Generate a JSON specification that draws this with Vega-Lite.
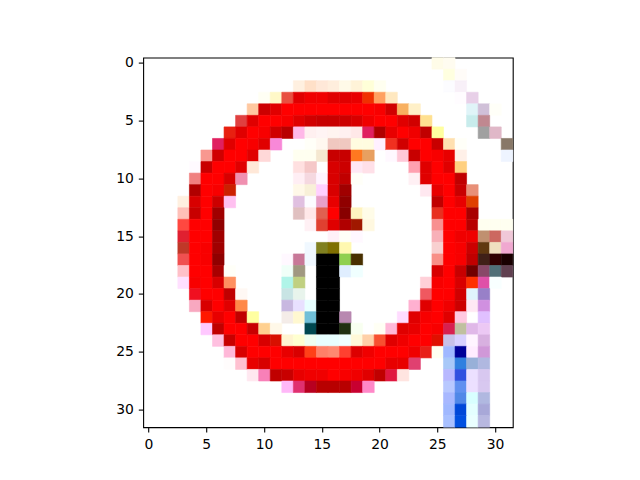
{
  "$schema": "https://vega.github.io/schema/vega-lite/v6.json",
  "width": 369.6,
  "height": 369.6,
  "autosize": {"type": "none"},
  "padding": {"left": 143.2, "top": 57.6, "right": 127.2, "bottom": 52.8},
  "background": "white",
  "config": {
    "view": {"stroke": "black", "strokeWidth": 1.1},
    "axis": {
      "domain": false,
      "grid": false,
      "title": null,
      "tickColor": "black",
      "tickSize": 4.9,
      "tickWidth": 1.1,
      "labelFont": "DejaVu Sans",
      "labelFontSize": 13.9,
      "labelColor": "black",
      "labelPadding": 4.9,
      "zindex": 1
    }
  },
  "data": {
    "values": [
      {"x": 25, "y": 0, "c": "#fffce8"}, {"x": 26, "y": 0, "c": "#fffcf0"},
      {"x": 26, "y": 1, "c": "#ffffe0"}, {"x": 27, "y": 1, "c": "#fffcf8"},
      {"x": 13, "y": 2, "c": "#fff0e0"}, {"x": 14, "y": 2, "c": "#ffe0c8"}, {"x": 15, "y": 2, "c": "#ffe8d8"}, {"x": 16, "y": 2, "c": "#ffeedd"}, {"x": 17, "y": 2, "c": "#fffae8"}, {"x": 18, "y": 2, "c": "#fff3d8"}, {"x": 19, "y": 2, "c": "#ffffd8"}, {"x": 20, "y": 2, "c": "#fffff0"}, {"x": 26, "y": 2, "c": "#fcfcff"}, {"x": 27, "y": 2, "c": "#f8f0f8"},
      {"x": 10, "y": 3, "c": "#fffff4"}, {"x": 11, "y": 3, "c": "#fff8c8"}, {"x": 12, "y": 3, "c": "#e85040"}, {"x": 13, "y": 3, "c": "#e00000"}, {"x": 14, "y": 3, "c": "#f00000"}, {"x": 15, "y": 3, "c": "#f00000"}, {"x": 16, "y": 3, "c": "#e00000"}, {"x": 17, "y": 3, "c": "#e00000"}, {"x": 18, "y": 3, "c": "#e80000"}, {"x": 19, "y": 3, "c": "#f03000"}, {"x": 20, "y": 3, "c": "#ffa060"}, {"x": 21, "y": 3, "c": "#ffe8c0"}, {"x": 27, "y": 3, "c": "#fffcff"}, {"x": 28, "y": 3, "c": "#e8d0e8"},
      {"x": 9, "y": 4, "c": "#ffc8a0"}, {"x": 10, "y": 4, "c": "#cc0000"}, {"x": 11, "y": 4, "c": "#e00000"}, {"x": 12, "y": 4, "c": "#ff0000"}, {"x": 13, "y": 4, "c": "#ff0000"}, {"x": 14, "y": 4, "c": "#ff0000"}, {"x": 15, "y": 4, "c": "#ff0000"}, {"x": 16, "y": 4, "c": "#ff0000"}, {"x": 17, "y": 4, "c": "#ff0000"}, {"x": 18, "y": 4, "c": "#ff0000"}, {"x": 19, "y": 4, "c": "#ff0000"}, {"x": 20, "y": 4, "c": "#f80000"}, {"x": 21, "y": 4, "c": "#d00000"}, {"x": 22, "y": 4, "c": "#f8b060"}, {"x": 23, "y": 4, "c": "#fff0c8"}, {"x": 28, "y": 4, "c": "#e0f4f8"}, {"x": 29, "y": 4, "c": "#d0c0d8"}, {"x": 30, "y": 4, "c": "#fffff8"},
      {"x": 8, "y": 5, "c": "#e04040"}, {"x": 9, "y": 5, "c": "#e00000"}, {"x": 10, "y": 5, "c": "#ff0000"}, {"x": 11, "y": 5, "c": "#ff0000"}, {"x": 12, "y": 5, "c": "#f80000"}, {"x": 13, "y": 5, "c": "#e00000"}, {"x": 14, "y": 5, "c": "#d00000"}, {"x": 15, "y": 5, "c": "#c80000"}, {"x": 16, "y": 5, "c": "#c80000"}, {"x": 17, "y": 5, "c": "#cc0000"}, {"x": 18, "y": 5, "c": "#d80000"}, {"x": 19, "y": 5, "c": "#f00000"}, {"x": 20, "y": 5, "c": "#ff0000"}, {"x": 21, "y": 5, "c": "#ff0000"}, {"x": 22, "y": 5, "c": "#e00000"}, {"x": 23, "y": 5, "c": "#d00000"}, {"x": 24, "y": 5, "c": "#ffe090"}, {"x": 28, "y": 5, "c": "#c8ecec"}, {"x": 29, "y": 5, "c": "#c08890"},
      {"x": 7, "y": 6, "c": "#e82010"}, {"x": 8, "y": 6, "c": "#e00000"}, {"x": 9, "y": 6, "c": "#ff0000"}, {"x": 10, "y": 6, "c": "#f80000"}, {"x": 11, "y": 6, "c": "#d00000"}, {"x": 12, "y": 6, "c": "#b80000"}, {"x": 13, "y": 6, "c": "#ffb8e8"}, {"x": 14, "y": 6, "c": "#fff0f0"}, {"x": 15, "y": 6, "c": "#fff4f4"}, {"x": 16, "y": 6, "c": "#fff4f0"}, {"x": 17, "y": 6, "c": "#fff0f0"}, {"x": 18, "y": 6, "c": "#ffe8e8"}, {"x": 19, "y": 6, "c": "#e02060"}, {"x": 20, "y": 6, "c": "#b00000"}, {"x": 21, "y": 6, "c": "#e80000"}, {"x": 22, "y": 6, "c": "#ff0000"}, {"x": 23, "y": 6, "c": "#f00000"}, {"x": 24, "y": 6, "c": "#c00000"}, {"x": 25, "y": 6, "c": "#ffffa0"}, {"x": 29, "y": 6, "c": "#a0a0a0"}, {"x": 30, "y": 6, "c": "#e0b8c8"},
      {"x": 6, "y": 7, "c": "#e02060"}, {"x": 7, "y": 7, "c": "#e00000"}, {"x": 8, "y": 7, "c": "#ff0000"}, {"x": 9, "y": 7, "c": "#f80000"}, {"x": 10, "y": 7, "c": "#e00000"}, {"x": 11, "y": 7, "c": "#f888d8"}, {"x": 14, "y": 7, "c": "#fffff8"}, {"x": 15, "y": 7, "c": "#fff8f0"}, {"x": 16, "y": 7, "c": "#f0c8c0"}, {"x": 17, "y": 7, "c": "#f0c8c0"}, {"x": 18, "y": 7, "c": "#fffce0"}, {"x": 19, "y": 7, "c": "#fffce0"}, {"x": 20, "y": 7, "c": "#fff0ff"}, {"x": 21, "y": 7, "c": "#f03020"}, {"x": 22, "y": 7, "c": "#d00000"}, {"x": 23, "y": 7, "c": "#ff0000"}, {"x": 24, "y": 7, "c": "#ff0000"}, {"x": 25, "y": 7, "c": "#c80000"}, {"x": 26, "y": 7, "c": "#ffe0b0"}, {"x": 27, "y": 7, "c": "#fffff8"}, {"x": 31, "y": 7, "c": "#887868"},
      {"x": 5, "y": 8, "c": "#f89890"}, {"x": 6, "y": 8, "c": "#d00000"}, {"x": 7, "y": 8, "c": "#ff0000"}, {"x": 8, "y": 8, "c": "#ff0000"}, {"x": 9, "y": 8, "c": "#e00000"}, {"x": 10, "y": 8, "c": "#ffd8d8"}, {"x": 13, "y": 8, "c": "#fffff0"}, {"x": 14, "y": 8, "c": "#fffff0"}, {"x": 15, "y": 8, "c": "#f5e8d0"}, {"x": 16, "y": 8, "c": "#c80000"}, {"x": 17, "y": 8, "c": "#c80000"}, {"x": 18, "y": 8, "c": "#ff7820"}, {"x": 19, "y": 8, "c": "#e8a060"}, {"x": 21, "y": 8, "c": "#fff8ff"}, {"x": 22, "y": 8, "c": "#ffc8d8"}, {"x": 23, "y": 8, "c": "#c80000"}, {"x": 24, "y": 8, "c": "#ff0000"}, {"x": 25, "y": 8, "c": "#f80000"}, {"x": 26, "y": 8, "c": "#e80000"}, {"x": 27, "y": 8, "c": "#fff0e8"}, {"x": 31, "y": 8, "c": "#eef4ff"},
      {"x": 4, "y": 9, "c": "#fffaff"}, {"x": 5, "y": 9, "c": "#c80000"}, {"x": 6, "y": 9, "c": "#ff0000"}, {"x": 7, "y": 9, "c": "#ff0000"}, {"x": 8, "y": 9, "c": "#e00000"}, {"x": 9, "y": 9, "c": "#ffe8d8"}, {"x": 13, "y": 9, "c": "#ffe0e0"}, {"x": 14, "y": 9, "c": "#f5c8c8"}, {"x": 16, "y": 9, "c": "#d80000"}, {"x": 17, "y": 9, "c": "#cc0000"}, {"x": 18, "y": 9, "c": "#ffe8f4"}, {"x": 19, "y": 9, "c": "#ffe0e8"}, {"x": 23, "y": 9, "c": "#ffa0b0"}, {"x": 24, "y": 9, "c": "#e00000"}, {"x": 25, "y": 9, "c": "#ff0000"}, {"x": 26, "y": 9, "c": "#e00000"}, {"x": 27, "y": 9, "c": "#ffd080"},
      {"x": 4, "y": 10, "c": "#f08080"}, {"x": 5, "y": 10, "c": "#ff0000"}, {"x": 6, "y": 10, "c": "#ff0000"}, {"x": 7, "y": 10, "c": "#d80000"}, {"x": 8, "y": 10, "c": "#f090b0"}, {"x": 13, "y": 10, "c": "#ffeef4"}, {"x": 14, "y": 10, "c": "#f5d8e0"}, {"x": 15, "y": 10, "c": "#fff4ff"}, {"x": 16, "y": 10, "c": "#d80000"}, {"x": 17, "y": 10, "c": "#c00000"}, {"x": 18, "y": 10, "c": "#fffff8"}, {"x": 23, "y": 10, "c": "#fff0f4"}, {"x": 24, "y": 10, "c": "#e00000"}, {"x": 25, "y": 10, "c": "#ff0000"}, {"x": 26, "y": 10, "c": "#ff0000"}, {"x": 27, "y": 10, "c": "#c00000"},
      {"x": 4, "y": 11, "c": "#b00000"}, {"x": 5, "y": 11, "c": "#ff0000"}, {"x": 6, "y": 11, "c": "#f80000"}, {"x": 7, "y": 11, "c": "#cc2000"}, {"x": 13, "y": 11, "c": "#fff8e8"}, {"x": 14, "y": 11, "c": "#f8f0d8"}, {"x": 15, "y": 11, "c": "#ffd0ff"}, {"x": 16, "y": 11, "c": "#d80000"}, {"x": 17, "y": 11, "c": "#a00000"}, {"x": 24, "y": 11, "c": "#ffe8f0"}, {"x": 25, "y": 11, "c": "#e80000"}, {"x": 26, "y": 11, "c": "#ff0000"}, {"x": 27, "y": 11, "c": "#c80000"}, {"x": 28, "y": 11, "c": "#e89078"},
      {"x": 3, "y": 12, "c": "#fff0e0"}, {"x": 4, "y": 12, "c": "#d80000"}, {"x": 5, "y": 12, "c": "#ff0000"}, {"x": 6, "y": 12, "c": "#cc0000"}, {"x": 7, "y": 12, "c": "#ffc0f0"}, {"x": 13, "y": 12, "c": "#e0c0e0"}, {"x": 14, "y": 12, "c": "#fcfcff"}, {"x": 15, "y": 12, "c": "#e8a0c8"}, {"x": 16, "y": 12, "c": "#e80000"}, {"x": 17, "y": 12, "c": "#900000"}, {"x": 25, "y": 12, "c": "#c00000"}, {"x": 26, "y": 12, "c": "#ff0000"}, {"x": 27, "y": 12, "c": "#e80000"}, {"x": 28, "y": 12, "c": "#e04000"},
      {"x": 3, "y": 13, "c": "#ffc0b8"}, {"x": 4, "y": 13, "c": "#c80000"}, {"x": 5, "y": 13, "c": "#ff0000"}, {"x": 6, "y": 13, "c": "#a00000"}, {"x": 13, "y": 13, "c": "#e0c0c0"}, {"x": 14, "y": 13, "c": "#ffe8e8"}, {"x": 15, "y": 13, "c": "#e06050"}, {"x": 16, "y": 13, "c": "#ff0000"}, {"x": 17, "y": 13, "c": "#880000"}, {"x": 18, "y": 13, "c": "#fff4c0"}, {"x": 19, "y": 13, "c": "#fffce8"}, {"x": 25, "y": 13, "c": "#e83020"}, {"x": 26, "y": 13, "c": "#ff0000"}, {"x": 27, "y": 13, "c": "#ff0000"}, {"x": 28, "y": 13, "c": "#a80000"},
      {"x": 3, "y": 14, "c": "#ff4840"}, {"x": 4, "y": 14, "c": "#ff0000"}, {"x": 5, "y": 14, "c": "#ff0000"}, {"x": 6, "y": 14, "c": "#900000"}, {"x": 14, "y": 14, "c": "#fff0f4"}, {"x": 15, "y": 14, "c": "#e04030"}, {"x": 16, "y": 14, "c": "#e00000"}, {"x": 17, "y": 14, "c": "#b00000"}, {"x": 18, "y": 14, "c": "#a01800"}, {"x": 19, "y": 14, "c": "#fff8e0"}, {"x": 25, "y": 14, "c": "#f89090"}, {"x": 26, "y": 14, "c": "#ff0000"}, {"x": 27, "y": 14, "c": "#ff0000"}, {"x": 28, "y": 14, "c": "#b80000"}, {"x": 29, "y": 14, "c": "#fffff0"}, {"x": 30, "y": 14, "c": "#fffff0"}, {"x": 31, "y": 14, "c": "#fffff0"},
      {"x": 3, "y": 15, "c": "#e02030"}, {"x": 4, "y": 15, "c": "#ff0000"}, {"x": 5, "y": 15, "c": "#ff0000"}, {"x": 6, "y": 15, "c": "#a00000"}, {"x": 16, "y": 15, "c": "#fff0f8"}, {"x": 17, "y": 15, "c": "#fffff8"}, {"x": 18, "y": 15, "c": "#fff8ff"}, {"x": 25, "y": 15, "c": "#f8b0b8"}, {"x": 26, "y": 15, "c": "#ff0000"}, {"x": 27, "y": 15, "c": "#f00000"}, {"x": 28, "y": 15, "c": "#f00000"}, {"x": 29, "y": 15, "c": "#c09070"}, {"x": 30, "y": 15, "c": "#cc6860"}, {"x": 31, "y": 15, "c": "#f0c8d8"},
      {"x": 3, "y": 16, "c": "#c03828"}, {"x": 4, "y": 16, "c": "#ff0000"}, {"x": 5, "y": 16, "c": "#f80000"}, {"x": 6, "y": 16, "c": "#a00000"}, {"x": 14, "y": 16, "c": "#f0f8ff"}, {"x": 15, "y": 16, "c": "#808020"}, {"x": 16, "y": 16, "c": "#807000"}, {"x": 17, "y": 16, "c": "#fff8b0"}, {"x": 25, "y": 16, "c": "#f8d0d0"}, {"x": 26, "y": 16, "c": "#ff0000"}, {"x": 27, "y": 16, "c": "#f80000"}, {"x": 28, "y": 16, "c": "#cc0000"}, {"x": 29, "y": 16, "c": "#603810"}, {"x": 30, "y": 16, "c": "#f0e0c0"}, {"x": 31, "y": 16, "c": "#f0a8d0"},
      {"x": 3, "y": 17, "c": "#f05050"}, {"x": 4, "y": 17, "c": "#ff0000"}, {"x": 5, "y": 17, "c": "#f80000"}, {"x": 6, "y": 17, "c": "#900000"}, {"x": 12, "y": 17, "c": "#fff8ff"}, {"x": 13, "y": 17, "c": "#c87898"}, {"x": 14, "y": 17, "c": "#f0f8ff"}, {"x": 15, "y": 17, "c": "#000000"}, {"x": 16, "y": 17, "c": "#000000"}, {"x": 17, "y": 17, "c": "#90d050"}, {"x": 18, "y": 17, "c": "#483000"}, {"x": 25, "y": 17, "c": "#f89088"}, {"x": 26, "y": 17, "c": "#ff0000"}, {"x": 27, "y": 17, "c": "#f80000"}, {"x": 28, "y": 17, "c": "#c00000"}, {"x": 29, "y": 17, "c": "#402018"}, {"x": 30, "y": 17, "c": "#300000"}, {"x": 31, "y": 17, "c": "#180000"},
      {"x": 3, "y": 18, "c": "#ffc0c8"}, {"x": 4, "y": 18, "c": "#ff0000"}, {"x": 5, "y": 18, "c": "#ff0000"}, {"x": 6, "y": 18, "c": "#a80000"}, {"x": 7, "y": 18, "c": "#fffff8"}, {"x": 12, "y": 18, "c": "#f0fff8"}, {"x": 13, "y": 18, "c": "#a09880"}, {"x": 15, "y": 18, "c": "#000000"}, {"x": 16, "y": 18, "c": "#000000"}, {"x": 17, "y": 18, "c": "#e0eeff"}, {"x": 18, "y": 18, "c": "#f0ffff"}, {"x": 25, "y": 18, "c": "#d80000"}, {"x": 26, "y": 18, "c": "#ff0000"}, {"x": 27, "y": 18, "c": "#c80000"}, {"x": 28, "y": 18, "c": "#700000"}, {"x": 29, "y": 18, "c": "#884868"}, {"x": 30, "y": 18, "c": "#507078"}, {"x": 31, "y": 18, "c": "#604050"},
      {"x": 3, "y": 19, "c": "#ffe0ff"}, {"x": 4, "y": 19, "c": "#f80000"}, {"x": 5, "y": 19, "c": "#ff0000"}, {"x": 6, "y": 19, "c": "#d80000"}, {"x": 7, "y": 19, "c": "#ff9060"}, {"x": 12, "y": 19, "c": "#b0f4e8"}, {"x": 13, "y": 19, "c": "#c0d080"}, {"x": 15, "y": 19, "c": "#000000"}, {"x": 16, "y": 19, "c": "#000000"}, {"x": 24, "y": 19, "c": "#ffd0d8"}, {"x": 25, "y": 19, "c": "#f80000"}, {"x": 26, "y": 19, "c": "#ff0000"}, {"x": 27, "y": 19, "c": "#d80000"}, {"x": 28, "y": 19, "c": "#ff3000"}, {"x": 29, "y": 19, "c": "#e050a8"}, {"x": 30, "y": 19, "c": "#f8ffff"},
      {"x": 4, "y": 20, "c": "#f01020"}, {"x": 5, "y": 20, "c": "#ff0000"}, {"x": 6, "y": 20, "c": "#ff0000"}, {"x": 7, "y": 20, "c": "#c00000"}, {"x": 8, "y": 20, "c": "#fff8f4"}, {"x": 12, "y": 20, "c": "#c8e4e4"}, {"x": 13, "y": 20, "c": "#e8f4ec"}, {"x": 15, "y": 20, "c": "#000000"}, {"x": 16, "y": 20, "c": "#000000"}, {"x": 24, "y": 20, "c": "#f05860"}, {"x": 25, "y": 20, "c": "#ff0000"}, {"x": 26, "y": 20, "c": "#ff0000"}, {"x": 27, "y": 20, "c": "#d00000"}, {"x": 28, "y": 20, "c": "#e0f4fc"}, {"x": 29, "y": 20, "c": "#9880c8"},
      {"x": 4, "y": 21, "c": "#f8a8c0"}, {"x": 5, "y": 21, "c": "#d80000"}, {"x": 6, "y": 21, "c": "#ff0000"}, {"x": 7, "y": 21, "c": "#e00000"}, {"x": 8, "y": 21, "c": "#ff8848"}, {"x": 12, "y": 21, "c": "#c8b8e0"}, {"x": 13, "y": 21, "c": "#e8e0ff"}, {"x": 14, "y": 21, "c": "#e8ffff"}, {"x": 15, "y": 21, "c": "#000000"}, {"x": 16, "y": 21, "c": "#000000"}, {"x": 23, "y": 21, "c": "#ffb0d0"}, {"x": 24, "y": 21, "c": "#e00000"}, {"x": 25, "y": 21, "c": "#ff0000"}, {"x": 26, "y": 21, "c": "#f00000"}, {"x": 27, "y": 21, "c": "#cc0000"}, {"x": 28, "y": 21, "c": "#ffe8f4"}, {"x": 29, "y": 21, "c": "#d090e0"},
      {"x": 5, "y": 22, "c": "#ff1800"}, {"x": 6, "y": 22, "c": "#e80000"}, {"x": 7, "y": 22, "c": "#ff0000"}, {"x": 8, "y": 22, "c": "#c00000"}, {"x": 9, "y": 22, "c": "#ffffa0"}, {"x": 12, "y": 22, "c": "#f4ece8"}, {"x": 13, "y": 22, "c": "#fff8d0"}, {"x": 14, "y": 22, "c": "#70c0d8"}, {"x": 15, "y": 22, "c": "#000000"}, {"x": 16, "y": 22, "c": "#000000"}, {"x": 17, "y": 22, "c": "#b888b0"}, {"x": 22, "y": 22, "c": "#ffdcff"}, {"x": 23, "y": 22, "c": "#e00000"}, {"x": 24, "y": 22, "c": "#f80000"}, {"x": 25, "y": 22, "c": "#ff0000"}, {"x": 26, "y": 22, "c": "#e00000"}, {"x": 27, "y": 22, "c": "#ffc8e0"}, {"x": 29, "y": 22, "c": "#e0c0ff"},
      {"x": 5, "y": 23, "c": "#ffc8ff"}, {"x": 6, "y": 23, "c": "#c00000"}, {"x": 7, "y": 23, "c": "#ff0000"}, {"x": 8, "y": 23, "c": "#ff0000"}, {"x": 9, "y": 23, "c": "#c80000"}, {"x": 10, "y": 23, "c": "#ffd090"}, {"x": 11, "y": 23, "c": "#fff8e8"}, {"x": 14, "y": 23, "c": "#004850"}, {"x": 15, "y": 23, "c": "#000000"}, {"x": 16, "y": 23, "c": "#000000"}, {"x": 17, "y": 23, "c": "#203010"}, {"x": 18, "y": 23, "c": "#f8fff0"}, {"x": 20, "y": 23, "c": "#fffff4"}, {"x": 21, "y": 23, "c": "#ffb8d8"}, {"x": 22, "y": 23, "c": "#e00000"}, {"x": 23, "y": 23, "c": "#e80000"}, {"x": 24, "y": 23, "c": "#ff0000"}, {"x": 25, "y": 23, "c": "#f80000"}, {"x": 26, "y": 23, "c": "#d82050"}, {"x": 27, "y": 23, "c": "#c0c0a0"}, {"x": 28, "y": 23, "c": "#e0b8e8"}, {"x": 29, "y": 23, "c": "#ecc8f4"},
      {"x": 6, "y": 24, "c": "#ffc0e0"}, {"x": 7, "y": 24, "c": "#c80000"}, {"x": 8, "y": 24, "c": "#ff0000"}, {"x": 9, "y": 24, "c": "#ff0000"}, {"x": 10, "y": 24, "c": "#d80000"}, {"x": 11, "y": 24, "c": "#d81000"}, {"x": 12, "y": 24, "c": "#fff4d0"}, {"x": 13, "y": 24, "c": "#ffffd0"}, {"x": 14, "y": 24, "c": "#f0fff0"}, {"x": 15, "y": 24, "c": "#e8ffff"}, {"x": 16, "y": 24, "c": "#e8ffff"}, {"x": 17, "y": 24, "c": "#f0ffff"}, {"x": 18, "y": 24, "c": "#fff8d8"}, {"x": 19, "y": 24, "c": "#ffd0a8"}, {"x": 20, "y": 24, "c": "#f85030"}, {"x": 21, "y": 24, "c": "#e00000"}, {"x": 22, "y": 24, "c": "#f00000"}, {"x": 23, "y": 24, "c": "#ff0000"}, {"x": 24, "y": 24, "c": "#ff0000"}, {"x": 25, "y": 24, "c": "#e01000"}, {"x": 26, "y": 24, "c": "#c8c0e8"}, {"x": 27, "y": 24, "c": "#d8d0ff"}, {"x": 28, "y": 24, "c": "#fff4ff"}, {"x": 29, "y": 24, "c": "#d8b0e0"},
      {"x": 7, "y": 25, "c": "#ffb8d8"}, {"x": 8, "y": 25, "c": "#d80000"}, {"x": 9, "y": 25, "c": "#ff0000"}, {"x": 10, "y": 25, "c": "#ff0000"}, {"x": 11, "y": 25, "c": "#ff0000"}, {"x": 12, "y": 25, "c": "#e80000"}, {"x": 13, "y": 25, "c": "#d80000"}, {"x": 14, "y": 25, "c": "#ff4018"}, {"x": 15, "y": 25, "c": "#ff8068"}, {"x": 16, "y": 25, "c": "#ff8870"}, {"x": 17, "y": 25, "c": "#ff4030"}, {"x": 18, "y": 25, "c": "#dd0000"}, {"x": 19, "y": 25, "c": "#f00000"}, {"x": 20, "y": 25, "c": "#ff0000"}, {"x": 21, "y": 25, "c": "#ff0000"}, {"x": 22, "y": 25, "c": "#ff0000"}, {"x": 23, "y": 25, "c": "#f00000"}, {"x": 24, "y": 25, "c": "#e82018"}, {"x": 25, "y": 25, "c": "#fffff0"}, {"x": 26, "y": 25, "c": "#a0b8ff"}, {"x": 27, "y": 25, "c": "#000098"}, {"x": 28, "y": 25, "c": "#ffecff"}, {"x": 29, "y": 25, "c": "#d098d8"},
      {"x": 7, "y": 26, "c": "#fffcfc"}, {"x": 8, "y": 26, "c": "#ffc0d0"}, {"x": 9, "y": 26, "c": "#e80000"}, {"x": 10, "y": 26, "c": "#d80000"}, {"x": 11, "y": 26, "c": "#ff0000"}, {"x": 12, "y": 26, "c": "#ff0000"}, {"x": 13, "y": 26, "c": "#ff0000"}, {"x": 14, "y": 26, "c": "#ff0000"}, {"x": 15, "y": 26, "c": "#ff0000"}, {"x": 16, "y": 26, "c": "#ff0000"}, {"x": 17, "y": 26, "c": "#ff0000"}, {"x": 18, "y": 26, "c": "#ff0000"}, {"x": 19, "y": 26, "c": "#ff0000"}, {"x": 20, "y": 26, "c": "#ff0000"}, {"x": 21, "y": 26, "c": "#e80000"}, {"x": 22, "y": 26, "c": "#e80000"}, {"x": 23, "y": 26, "c": "#e04070"}, {"x": 26, "y": 26, "c": "#a8c8f8"}, {"x": 27, "y": 26, "c": "#3080e0"}, {"x": 28, "y": 26, "c": "#98b0d8"}, {"x": 29, "y": 26, "c": "#b0b8e0"},
      {"x": 9, "y": 27, "c": "#ffe8f0"}, {"x": 10, "y": 27, "c": "#f880b8"}, {"x": 11, "y": 27, "c": "#c00000"}, {"x": 12, "y": 27, "c": "#c80000"}, {"x": 13, "y": 27, "c": "#e80000"}, {"x": 14, "y": 27, "c": "#f00000"}, {"x": 15, "y": 27, "c": "#f00000"}, {"x": 16, "y": 27, "c": "#ff0000"}, {"x": 17, "y": 27, "c": "#f80000"}, {"x": 18, "y": 27, "c": "#f00000"}, {"x": 19, "y": 27, "c": "#e00000"}, {"x": 20, "y": 27, "c": "#c00000"}, {"x": 21, "y": 27, "c": "#e01840"}, {"x": 22, "y": 27, "c": "#ffe4e0"}, {"x": 26, "y": 27, "c": "#b8b8ff"}, {"x": 27, "y": 27, "c": "#3050e0"}, {"x": 28, "y": 27, "c": "#ece0ff"}, {"x": 29, "y": 27, "c": "#d8c8f0"},
      {"x": 12, "y": 28, "c": "#ffb8f8"}, {"x": 13, "y": 28, "c": "#e03070"}, {"x": 14, "y": 28, "c": "#b80020"}, {"x": 15, "y": 28, "c": "#b80000"}, {"x": 16, "y": 28, "c": "#b80000"}, {"x": 17, "y": 28, "c": "#b80000"}, {"x": 18, "y": 28, "c": "#c80030"}, {"x": 19, "y": 28, "c": "#ff88c8"}, {"x": 26, "y": 28, "c": "#b8c8ff"}, {"x": 27, "y": 28, "c": "#6090f0"}, {"x": 28, "y": 28, "c": "#ece0ff"}, {"x": 29, "y": 28, "c": "#d8c8f0"},
      {"x": 26, "y": 29, "c": "#a8b8ff"}, {"x": 27, "y": 29, "c": "#5088e8"}, {"x": 28, "y": 29, "c": "#d8ffff"}, {"x": 29, "y": 29, "c": "#b0b8e0"},
      {"x": 26, "y": 30, "c": "#a0b8ff"}, {"x": 27, "y": 30, "c": "#0048d8"}, {"x": 28, "y": 30, "c": "#e4ffff"}, {"x": 29, "y": 30, "c": "#a8a8d8"},
      {"x": 26, "y": 31, "c": "#a8c0ff"}, {"x": 27, "y": 31, "c": "#0050e0"}, {"x": 28, "y": 31, "c": "#eaffff"}, {"x": 29, "y": 31, "c": "#b8b8e0"}
    ]
  },
  "mark": {"type": "rect", "strokeWidth": 0.6},
  "encoding": {
    "x": {
      "field": "x",
      "type": "ordinal",
      "scale": {"domain": [0,1,2,3,4,5,6,7,8,9,10,11,12,13,14,15,16,17,18,19,20,21,22,23,24,25,26,27,28,29,30,31], "paddingInner": 0, "paddingOuter": 0},
      "axis": {"values": [0, 5, 10, 15, 20, 25, 30], "labelAngle": 0}
    },
    "y": {
      "field": "y",
      "type": "ordinal",
      "scale": {"domain": [0,1,2,3,4,5,6,7,8,9,10,11,12,13,14,15,16,17,18,19,20,21,22,23,24,25,26,27,28,29,30,31], "paddingInner": 0, "paddingOuter": 0},
      "axis": {"values": [0, 5, 10, 15, 20, 25, 30]}
    },
    "color": {"field": "c", "type": "nominal", "scale": null, "legend": null},
    "stroke": {"field": "c", "type": "nominal", "scale": null, "legend": null}
  }
}
